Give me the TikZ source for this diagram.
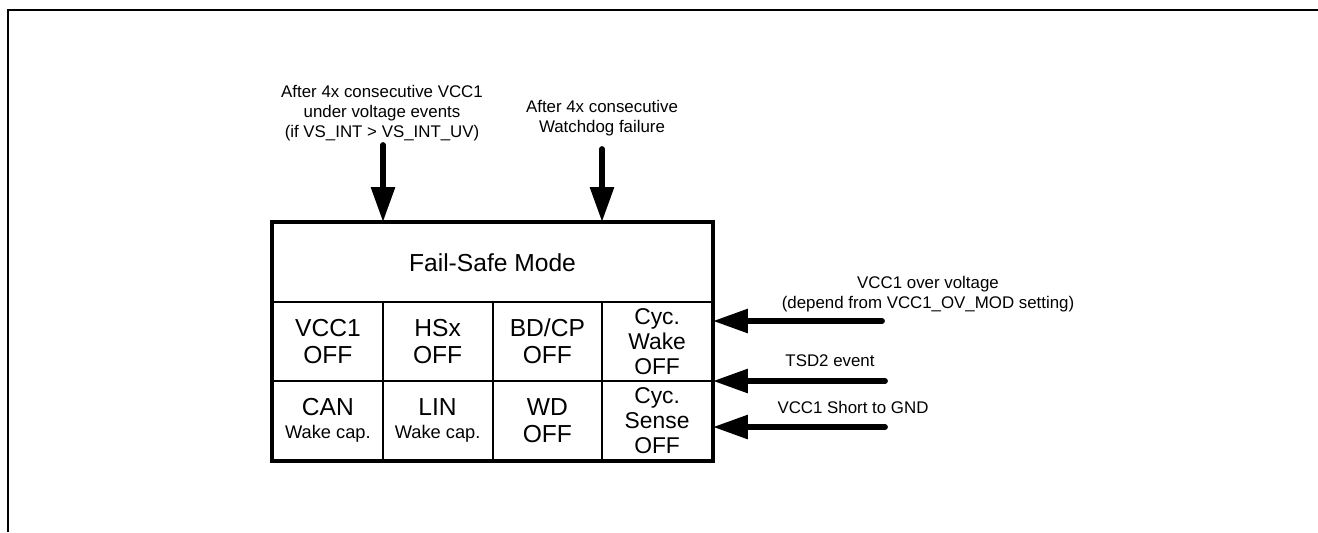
\documentclass[tikz,border=0pt]{standalone}
\usepackage{fontspec}
\setmainfont{Liberation Sans}
\usetikzlibrary{arrows.meta}

\def\smallfont{\fontsize{9.6}{11.4}\selectfont}
\def\cellfont{\fontsize{14}{15.4}\selectfont}
\def\cycfont{\fontsize{13}{14.2}\selectfont}
\def\capfont{\fontsize{10.4}{12.4}\selectfont}

\tikzset{
    cell/.style={draw, line width=1.1pt, minimum width=2.195cm, minimum height=1.58cm,
        inner sep=0pt, align=center, font=\cellfont},
    cyccell/.style={cell, font=\cycfont},
    evtext/.style={align=center, font=\smallfont, inner sep=0pt},
    bigarrow/.style={line width=3.3pt, line cap=round,
        -{Triangle[length=0.7cm, width=0.46cm]}}
}

\begin{document}
\begin{tikzpicture}[x=0.02cm, y=-0.02cm]
    \useasboundingbox (0,0) rectangle (1318,532);
    %% Frame
    \draw[line width=0.8pt] (8,532) -- (8,10) -- (1318,10);

    %% The mode box
    \node[cell, minimum width=8.78cm] (fsm) at (492.5,262.5) {Fail-Safe Mode};
    \node[cell] (vcc) at (327.9,341.5) {VCC1\\OFF};
    \node[cell] (hsx) at (437.6,341.5) {HSx\\OFF};
    \node[cell] (bdcp) at (547.4,341.5) {BD/CP\\OFF};
    \node[cyccell] (cycwake) at (657.1,341.5) {Cyc.\\Wake\\OFF};
    \node[cell] (can) at (327.9,420.5) {CAN\\[-2pt]{\capfont Wake cap.}};
    \node[cell] (lin) at (437.6,420.5) {LIN\\[-2pt]{\capfont Wake cap.}};
    \node[cell] (wd) at (547.4,420.5) {WD\\OFF};
    \node[cyccell] (cycsense) at (657.1,420.5) {Cyc.\\Sense\\OFF};
    \draw[line width=2.3pt] (fsm.north west) rectangle (cycsense.south east);

    %% Events from above
    \node[evtext] (uvtext) at (382,113) {After 4x consecutive VCC1\\under voltage events\\(if VS\_INT > VS\_INT\_UV)};
    \node[evtext] (wdtext) at (602,118) {After 4x consecutive\\Watchdog failure};
    \coordinate (uvsrc) at (383,145);
    \coordinate (wdsrc) at (602,149);
    \draw[bigarrow] (uvsrc) -- (uvsrc |- fsm.north);
    \draw[bigarrow] (wdsrc) -- (wdsrc |- fsm.north);

    %% Events from the right
    \node[evtext] (ovtext) at (928,294.5) {VCC1 over voltage\\(depend from VCC1\_OV\_MOD setting)};
    \node[evtext] (tsdtext) at (830,361) {TSD2 event};
    \node[evtext] (gndtext) at (853,407) {VCC1 Short to GND};
    \coordinate (ovsrc) at (882,321);
    \coordinate (tsdsrc) at (885,381);
    \coordinate (gndsrc) at (885,427);
    \draw[bigarrow] (ovsrc) -- (ovsrc -| cycwake.east);
    \draw[bigarrow] (tsdsrc) -- (tsdsrc -| cycwake.east);
    \draw[bigarrow] (gndsrc) -- (gndsrc -| cycwake.east);
\end{tikzpicture}
\end{document}
